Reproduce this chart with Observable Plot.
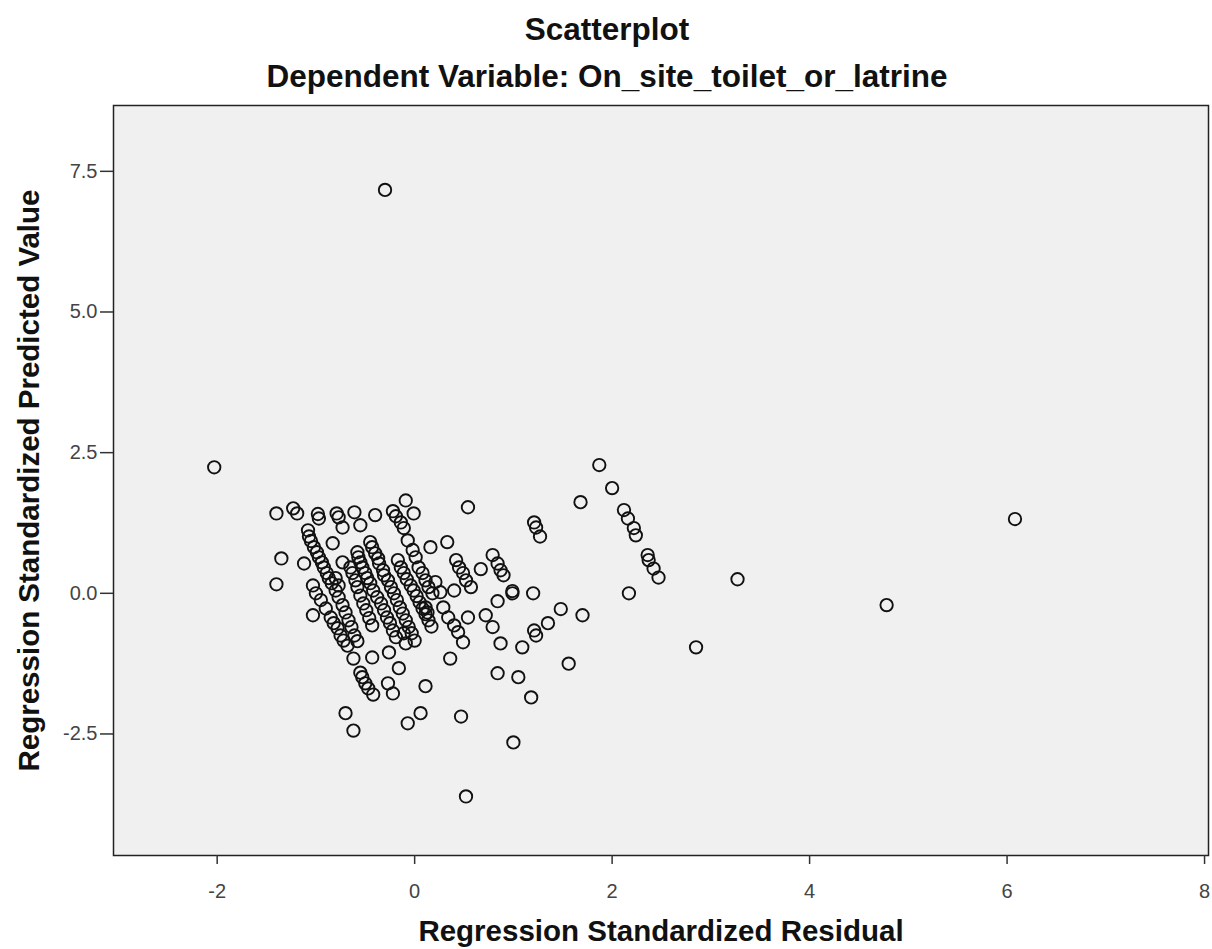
<!DOCTYPE html>
<html><head><meta charset="utf-8">
<script src="https://cdn.jsdelivr.net/npm/d3@7"></script>
<script src="https://cdn.jsdelivr.net/npm/@observablehq/plot@0.6"></script>
<style>body{margin:0;background:#fff;} svg{display:block}</style>
</head><body><div id="chart"></div>
<script>
const title = "Scatterplot";
const subtitle = "Dependent Variable: On_site_toilet_or_latrine";
const xLabel = "Regression Standardized Residual";
const yLabel = "Regression Standardized Predicted Value";
const xTicks = [-2, 0, 2, 4, 6, 8];
const yTicks = [-2.5, 0, 2.5, 5, 7.5];

// [standardized residual, standardized predicted value]
const outlyingPoints = [
  [-0.30, 7.17], [-2.03, 2.24], [6.08, 1.32], [3.27, 0.25], [4.78, -0.21], [2.85, -0.96],
  [0.52, -3.61], [0.47, -2.19], [1.00, -2.65]
];
const rightGroupPoints = [
  [1.87, 2.28], [2.00, 1.87], [1.68, 1.62], [2.12, 1.48], [2.16, 1.33], [2.22, 1.16], [2.24, 1.03],
  [2.36, 0.68], [2.37, 0.59], [2.42, 0.44], [2.47, 0.28], [2.17, 0.00],
  [1.21, 1.26], [1.23, 1.17], [1.27, 1.01], [0.54, 1.53],
  [0.79, 0.68], [0.67, 0.43], [0.84, 0.53], [0.87, 0.41], [0.90, 0.32], [0.99, 0.04], [0.99, 0.00],
  [1.20, 0.00], [0.84, -0.14], [0.72, -0.39], [0.79, -0.60], [0.87, -0.89], [1.09, -0.96],
  [1.21, -0.66], [1.23, -0.75], [1.35, -0.53], [1.48, -0.28], [1.70, -0.39], [1.56, -1.25],
  [0.84, -1.42], [1.05, -1.49], [1.18, -1.85]
];
const lowerGroupPoints = [
  [0.36, -1.16], [0.11, -1.65], [0.06, -2.13], [-0.07, -2.31], [-0.70, -2.13], [-0.62, -2.44],
  [0.54, -0.43], [0.57, 0.11], [0.40, 0.05], [0.33, 0.91], [0.16, 0.82],
  [-1.03, -0.39], [-0.43, -1.14], [-0.26, -1.05], [-0.16, -1.33], [-0.27, -1.60], [-0.22, -1.78],
  [-0.55, -1.41], [-0.53, -1.49], [-0.50, -1.60], [-0.47, -1.69], [-0.42, -1.80]
];
const upperGroupPoints = [
  [-0.09, 1.65], [-0.01, 1.42], [-1.40, 1.42], [-1.23, 1.51], [-1.19, 1.42], [-0.98, 1.41],
  [-0.97, 1.33], [-0.79, 1.42], [-0.77, 1.35], [-0.61, 1.44], [-0.40, 1.39], [-0.22, 1.46],
  [-0.19, 1.37], [-0.73, 1.17], [-0.55, 1.21], [-1.35, 0.62], [-1.12, 0.53], [-1.40, 0.16],
  [-0.83, 0.89], [-0.73, 0.55]
];
const bandA = [
  [-1.08, 1.12], [-1.07, 1.01], [-1.05, 0.93], [-1.02, 0.82], [-0.99, 0.73], [-0.97, 0.64],
  [-0.94, 0.55], [-0.92, 0.46], [-0.89, 0.36], [-0.87, 0.27], [-0.84, 0.18], [-0.80, 0.05],
  [-0.77, -0.07], [-0.73, -0.21], [-0.70, -0.34], [-0.67, -0.48], [-0.64, -0.60], [-0.61, -0.75],
  [-0.58, -0.85]
];
const bandB = [
  [-1.03, 0.14], [-1.00, 0.00], [-0.95, -0.12], [-0.90, -0.27], [-0.85, -0.43], [-0.82, -0.53],
  [-0.78, -0.62], [-0.75, -0.75], [-0.72, -0.84], [-0.68, -0.93], [-0.62, -1.16]
];
const bandC = [
  [-0.65, 0.46], [-0.63, 0.36], [-0.60, 0.23], [-0.58, 0.11], [-0.55, -0.04], [-0.52, -0.18],
  [-0.49, -0.30], [-0.46, -0.44], [-0.43, -0.57], [-0.80, 0.27], [-0.77, 0.14]
];
const bandD = [
  [-0.58, 0.73], [-0.57, 0.64], [-0.55, 0.55], [-0.53, 0.46], [-0.50, 0.36], [-0.48, 0.27],
  [-0.45, 0.18], [-0.42, 0.05], [-0.38, -0.07], [-0.34, -0.18], [-0.31, -0.30], [-0.28, -0.43],
  [-0.25, -0.53], [-0.22, -0.66], [-0.19, -0.78]
];
const bandE = [
  [-0.45, 0.91], [-0.43, 0.82], [-0.40, 0.71], [-0.37, 0.62], [-0.36, 0.53], [-0.32, 0.41],
  [-0.31, 0.32], [-0.27, 0.23], [-0.24, 0.11], [-0.21, 0.00], [-0.18, -0.12], [-0.15, -0.25],
  [-0.12, -0.36], [-0.09, -0.48], [-0.06, -0.60], [-0.03, -0.71], [0.00, -0.84]
];
const bandF = [
  [-0.14, 1.26], [-0.11, 1.16], [-0.07, 0.94], [-0.02, 0.77], [0.01, 0.64], [0.04, 0.46],
  [0.08, 0.36], [0.11, 0.23], [0.14, 0.11], [0.18, 0.00]
];
const bandG = [
  [-0.17, 0.59], [-0.14, 0.46], [-0.11, 0.36], [-0.08, 0.25], [-0.04, 0.14], [-0.01, 0.05],
  [0.02, -0.05], [0.05, -0.16], [0.08, -0.27], [0.11, -0.37], [0.14, -0.48], [0.17, -0.59],
  [-0.11, -0.71], [-0.09, -0.89], [0.11, -0.25], [0.13, -0.34]
];
const bandH = [
  [0.42, 0.59], [0.45, 0.46], [0.49, 0.36], [0.52, 0.23],
  [0.21, 0.20], [0.26, 0.02], [0.29, -0.25], [0.34, -0.43], [0.40, -0.57], [0.44, -0.69], [0.49, -0.87]
];

const points = [outlyingPoints, rightGroupPoints, lowerGroupPoints, upperGroupPoints,
  bandA, bandB, bandC, bandD, bandE, bandF, bandG, bandH]
  .flat().map(([x, y]) => ({x, y}));

const font = '"Liberation Sans", Arial, Helvetica, sans-serif';
const chart = Plot.plot({
  width: 1212, height: 949,
  marginLeft: 113, marginRight: 4, marginTop: 105, marginBottom: 94,
  style: {fontFamily: font, background: "#fff", overflow: "visible"},
  x: {domain: [-3.05, 8.04]},
  y: {domain: [-4.66, 8.67]},
  marks: [
    Plot.frame({fill: "#f0f0f0", stroke: null}),
    Plot.dot(points, {x: "x", y: "y", r: 6.2, stroke: "#111", strokeWidth: 1.9, fill: "none"}),
    Plot.frame({stroke: "#222", strokeWidth: 1.5}),
    Plot.axisX({ticks: xTicks, tickSize: 9, tickPadding: 19, fontSize: 20, tickFormat: d => String(d),
      label: null, stroke: "#333", fill: "#444", strokeWidth: 1.5}),
    Plot.axisY({ticks: yTicks, tickSize: 13, tickPadding: 3, fontSize: 20, tickFormat: d => d.toFixed(1),
      label: null, stroke: "#333", fill: "#444", strokeWidth: 1.5}),
    Plot.text([title], {frameAnchor: "top", lineAnchor: "middle", textAnchor: "middle", dx: -54, dy: -76,
      fontSize: 31.5, fontWeight: "bold", fill: "#111"}),
    Plot.text([subtitle], {frameAnchor: "top", lineAnchor: "middle", textAnchor: "middle", dx: -54, dy: -29,
      fontSize: 31.5, fontWeight: "bold", fill: "#111"}),
    Plot.text([xLabel], {frameAnchor: "bottom", lineAnchor: "middle", textAnchor: "middle", dy: 76,
      fontSize: 29.5, fontWeight: "bold", fill: "#111"}),
    Plot.text([yLabel], {frameAnchor: "left", lineAnchor: "middle", textAnchor: "middle", rotate: -90, dx: -84,
      fontSize: 29.5, fontWeight: "bold", fill: "#111"})
  ]
});
document.getElementById("chart").appendChild(chart);
</script>
</body></html>
